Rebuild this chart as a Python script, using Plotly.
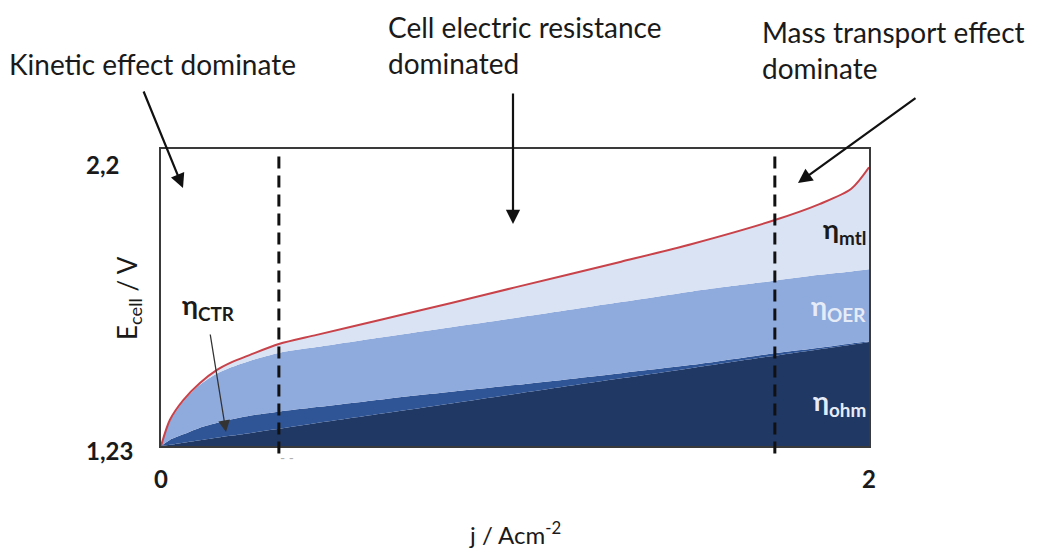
import plotly.graph_objects as go

# ---------------- data ----------------
j = [0, 0.025, 0.063, 0.11, 0.157, 0.2, 0.25, 0.333, 0.44, 0.63, 0.82, 1.0, 1.3, 1.5, 1.734, 1.86, 1.95, 2.0]
e_ohm = [1.23, 1.234, 1.241, 1.249, 1.257, 1.264, 1.272, 1.286, 1.305, 1.337, 1.369, 1.40, 1.451, 1.485, 1.525, 1.546, 1.561, 1.57]
e_ctr = [1.23, 1.25, 1.268, 1.29, 1.305, 1.317, 1.329, 1.342, 1.357, 1.383, 1.407, 1.429, 1.468, 1.495, 1.533, 1.551, 1.565, 1.571]
e_oer = [1.23, 1.31, 1.375, 1.43, 1.466, 1.488, 1.508, 1.534, 1.553, 1.586, 1.618, 1.648, 1.70, 1.735, 1.77, 1.789, 1.80, 1.807]
e_cell = [1.23, 1.315, 1.38, 1.436, 1.478, 1.504, 1.527, 1.563, 1.593, 1.645, 1.697, 1.748, 1.832, 1.89, 1.968, 2.02, 2.07, 2.14]

region_bounds = [0.333, 1.734]
x_tick_vals = [0, 2]
x_tick_text = ["0", "2"]
y_tick_vals = [1.23, 2.2]
y_tick_text = ["1,23", "2,2"]

C_OHM = "#203864"
C_CTR = "#2f5597"
C_OER = "#8faadc"
C_MTL = "#dae3f3"
C_RED = "#c8424a"
FONT = "Lato, Open Sans, sans-serif"

W, H = 1039, 552
L, R, T, B = 161, 869, 149, 446


def px(x):
    return (x - L) / (R - L)


def py(y):
    return (B - y) / (B - T)


fig = go.Figure()
fig.add_trace(go.Scatter(x=j, y=e_ohm, mode="lines", line=dict(width=0, shape="spline", smoothing=0.8, color=C_OHM),
                         fill="tozeroy", fillcolor=C_OHM, hoverinfo="skip", showlegend=False))
fig.add_trace(go.Scatter(x=j, y=e_ctr, mode="lines", line=dict(width=0, shape="spline", smoothing=0.8, color=C_CTR),
                         fill="tonexty", fillcolor=C_CTR, hoverinfo="skip", showlegend=False))
fig.add_trace(go.Scatter(x=j, y=e_oer, mode="lines", line=dict(width=0, shape="spline", smoothing=0.8, color=C_OER),
                         fill="tonexty", fillcolor=C_OER, hoverinfo="skip", showlegend=False))
fig.add_trace(go.Scatter(x=j, y=e_cell, mode="lines", line=dict(width=2, shape="spline", smoothing=0.8, color=C_RED),
                         fill="tonexty", fillcolor=C_MTL, hoverinfo="skip", showlegend=False))

shapes = []
for xb in region_bounds:
    shapes.append(dict(type="line", xref="x", yref="paper", x0=xb, x1=xb, y0=-0.025, y1=0.98,
                       line=dict(color="#111111", width=3, dash="12px,7px"), layer="above"))

ann = []
# tick labels
for v, t in zip(x_tick_vals, x_tick_text):
    ann.append(dict(x=v, y=py(478), xref="x", yref="paper", text=t, showarrow=False,
                    xanchor="center", yanchor="middle", font=dict(family=FONT, size=24, color="#1a1a1a", weight="bold")))
for v, t, yshift, xr in zip(y_tick_vals, y_tick_text, [-4, -15], [135, 121]):
    ann.append(dict(x=px(xr), y=v, xref="paper", yref="y", text=t, showarrow=False, yshift=yshift,
                    xanchor="right", yanchor="middle", font=dict(family=FONT, size=24, color="#1a1a1a", weight="bold")))

# axis titles
ann.append(dict(x=0.5, y=py(533), xref="paper", yref="paper", text="j / Acm<sup>-2</sup>", showarrow=False,
                xanchor="center", yanchor="middle", font=dict(family=FONT, size=24, color="#1a1a1a")))
ann.append(dict(x=px(128), y=py(298), xref="paper", yref="paper", text="E<sub>cell</sub> / V", showarrow=False,
                textangle=-90, xanchor="center", yanchor="middle", font=dict(family=FONT, size=26, color="#1a1a1a")))

# region text
txt_font = dict(family=FONT, size=28, color="#1a1a1a")
ann.append(dict(x=px(7), y=py(64), xref="paper", yref="paper", text="Kinetic effect dominate", showarrow=False,
                xanchor="left", yanchor="middle", font=txt_font))
ann.append(dict(x=px(386), y=py(45), xref="paper", yref="paper", text="Cell electric resistance<br>dominated",
                showarrow=False, xanchor="left", yanchor="middle", align="left", font=txt_font))
ann.append(dict(x=px(760), y=py(50), xref="paper", yref="paper", text="Mass transport effect<br>dominate",
                showarrow=False, xanchor="left", yanchor="middle", align="left", font=txt_font))

# arrows (head, tail in pixels)
arrows = [((183, 188), (143, 90), 2.2, "#111111"),
          ((513, 224), (513, 92), 2.2, "#111111"),
          ((798, 183), (917, 97), 2.2, "#111111"),
          ((226, 432), (210, 333), 1.3, "#333333")]
for (hx, hy), (tx, ty), w, c in arrows:
    ann.append(dict(x=px(hx), y=py(hy), xref="paper", yref="paper", text="", showarrow=True,
                    ax=tx - hx, ay=ty - hy, axref="pixel", ayref="pixel",
                    arrowhead=2, arrowsize=1.3 if w > 2 else 1.8, arrowwidth=w, arrowcolor=c))

# eta labels
def eta(xc, yc, sub, color, anchor="center"):
    ann.append(dict(x=px(xc), y=py(yc), xref="paper", yref="paper", text="η<sub>%s</sub>" % sub,
                    showarrow=False, xanchor=anchor, yanchor="middle",
                    font=dict(family=FONT, size=27, color=color, weight="bold")))

eta(208, 306, "CTR", "#1a1a1a")
eta(868, 230, "mtl", "#1a1a1a", "right")
eta(868, 307, "OER", "#e6ecf7", "right")
eta(868, 402, "ohm", "#e6ecf7", "right")

ann.append(dict(x=px(278), y=py(468), xref="paper", yref="paper", text="- -", showarrow=False,
                font=dict(family=FONT, size=14, color="#b0b0b0")))

axis_common = dict(showgrid=False, zeroline=False, showticklabels=False, ticks="",
                   showline=True, mirror=True, linecolor="#3a3a3a", linewidth=2)
fig.update_layout(
    width=W, height=H, autosize=False,
    margin=dict(l=L, r=W - R, t=T, b=H - B),
    paper_bgcolor="white", plot_bgcolor="white",
    xaxis=dict(range=[0, 2], tickvals=x_tick_vals, **axis_common),
    yaxis=dict(range=[1.23, 2.2], tickvals=y_tick_vals, **axis_common),
    shapes=shapes, annotations=ann, showlegend=False,
)
fig.write_html("out.html")
